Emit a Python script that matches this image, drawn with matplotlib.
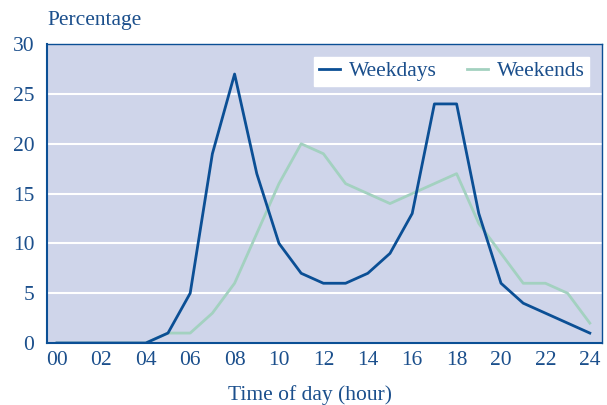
import matplotlib
matplotlib.use("Agg")
import matplotlib.pyplot as plt

hours = list(range(25))
hour_labels = ["00", "02", "04", "06", "08", "10", "12", "14", "16", "18", "20", "22", "24"]
weekdays = [0, 0, 0, 0, 0, 1, 5, 19, 27, 17, 10, 7, 6, 6, 7, 9, 13, 24, 24, 13, 6, 4, 3, 2, 1]
weekends = [0, 0, 0, 0, 0, 1, 1, 3, 6, 11, 16, 20, 19, 16, 15, 14, 15, 16, 17, 12, 9, 6, 6, 5, 2]

BLUE = "#0b4f95"
GREEN = "#a3d1c0"
TEXT = "#1b4f8c"
BG = "#cfd5ea"
FS = 15.5

plt.rcParams["font.family"] = ["Liberation Serif", "DejaVu Serif"]

fig = plt.figure(figsize=(6.07, 4.05), dpi=100)
ax = fig.add_axes([0.0774, 0.153, 0.9144, 0.738])
ax.set_facecolor(BG)

ax.plot(hours, weekdays, color=BLUE, lw=2, label="Weekdays", zorder=3)
ax.plot(hours, weekends, color=GREEN, lw=2, label="Weekends", zorder=2)

ax.set_xlim(-0.45, 24.55)
ax.set_ylim(0, 30)
ax.set_yticks(range(0, 31, 5))
ax.set_xticks(range(0, 25, 2))
ax.set_xticklabels(hour_labels)
ax.yaxis.grid(True, color="white", lw=1.5)
ax.set_axisbelow(True)
ax.tick_params(length=0, labelsize=FS, labelcolor=TEXT)
ax.tick_params(axis="y", pad=9)
ax.tick_params(axis="x", pad=6)
for s in ax.spines.values():
    s.set_color(BLUE)
    s.set_linewidth(1)
ax.spines["left"].set_linewidth(1.5)
ax.spines["bottom"].set_linewidth(1.5)

ax.set_xlabel("Time of day (hour)", fontsize=FS, color=TEXT)
ax.xaxis.set_label_coords(0.474, -0.14)
fig.text(0.0774, 0.95, "Percentage", fontsize=FS, color=TEXT, ha="left", va="center")

leg = ax.legend(loc="upper right", ncol=2, fontsize=FS, frameon=True, fancybox=False,
                edgecolor="white", facecolor="white", framealpha=1,
                handlelength=1.0, handletextpad=0.4, columnspacing=1.4,
                borderpad=0.2, borderaxespad=0.6, labelcolor=TEXT)

fig.savefig("out.png", dpi=100)
